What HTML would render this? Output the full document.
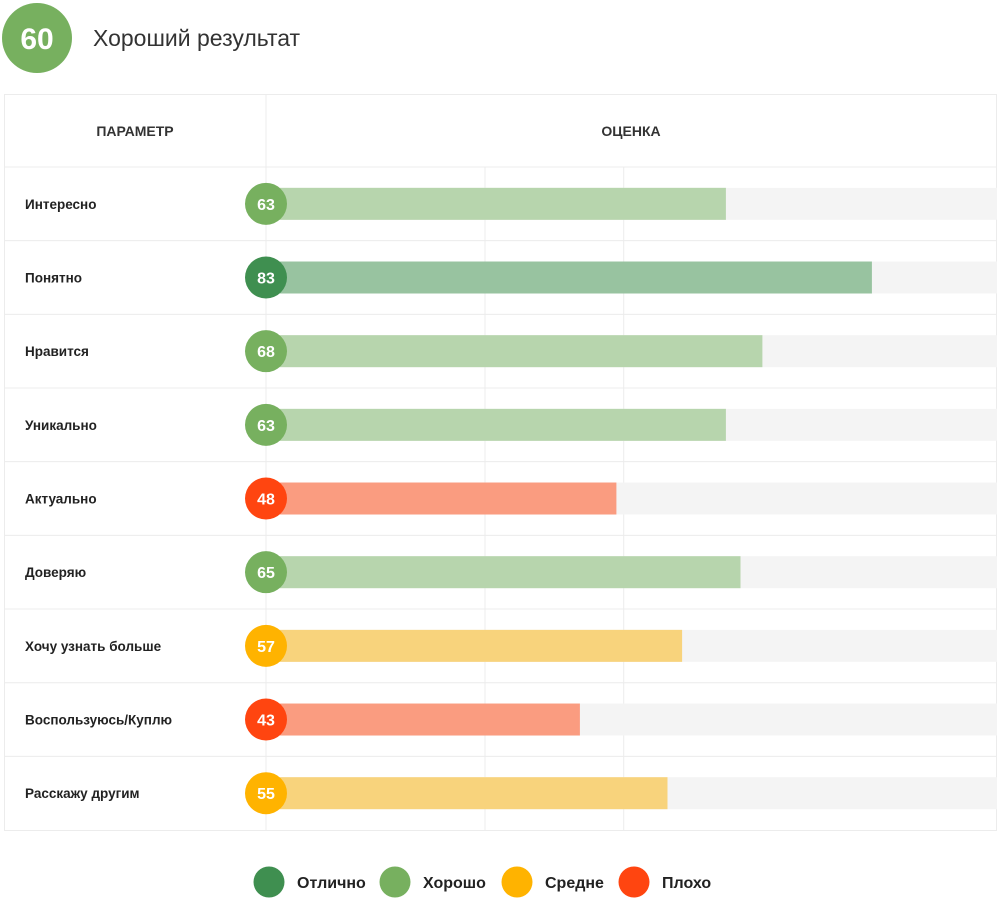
<!DOCTYPE html>
<html><head><meta charset="utf-8"><style>
body{margin:0;background:#fff;width:1000px;height:900px;overflow:hidden}
svg{display:block;font-family:"Liberation Sans","DejaVu Sans",sans-serif}
</style></head><body>
<svg id="c" width="1000" height="900">
<circle cx="37" cy="38" r="35" fill="#77b05f"/>
<text x="37" y="49" text-anchor="middle" font-size="30" font-weight="bold" fill="#fff">60</text>
<text x="93" y="46" font-size="23" fill="#333">Хороший результат</text>
<rect x="4.5" y="94.5" width="992" height="736" fill="#fff" stroke="#ececec"/>
<line x1="266" y1="94" x2="266" y2="830" stroke="#ececec"/>
<line x1="4" y1="167" x2="997" y2="167" stroke="#ececec"/>
<text x="135" y="136" text-anchor="middle" font-size="14" font-weight="bold" fill="#333">ПАРАМЕТР</text>
<text x="631" y="136" text-anchor="middle" font-size="14" font-weight="bold" fill="#333">ОЦЕНКА</text>
<g id="grid"></g><g id="rows"></g><g id="legend"></g>
</svg>
<script>
const categories=["Интересно","Понятно","Нравится","Уникально","Актуально","Доверяю","Хочу узнать больше","Воспользуюсь/Куплю","Расскажу другим"];
const values=[63,83,68,63,48,65,57,43,55];
const levels=["good","excellent","good","good","bad","good","medium","bad","medium"];
const gridValues=[30,49];
const legendLabels=["Отлично","Хорошо","Средне","Плохо"];
const legendLevels=["excellent","good","medium","bad"];
const dot={excellent:"#3f8f50",good:"#77b05f",medium:"#ffb300",bad:"#ff4510"};
const fill={excellent:"#98c3a0",good:"#b7d5ad",medium:"#f8d37c",bad:"#fa9c80"};
const NS="http://www.w3.org/2000/svg";
const x=v=>266+v*7.3;
const rowTop=167,rowH=73.67;
function mk(t,a,p){const e=document.createElementNS(NS,t);for(const k in a)e.setAttribute(k,a[k]);p.appendChild(e);return e;}
const grid=document.getElementById('grid'),rows=document.getElementById('rows'),lg=document.getElementById('legend');
gridValues.forEach(g=>{const l=mk('line',{x1:x(g),x2:x(g),y1:167,y2:830,stroke:'#ececec'},grid);

});
categories.forEach((c,i)=>{
 const y0=rowTop+i*rowH,cy=y0+rowH/2;
 if(i>0){const sep=mk('line',{x1:4,x2:997,y1:y0,y2:y0,stroke:'#ececec'},rows);
 
 }
 const lab=mk('text',{x:25,y:cy+5,'font-size':13.5,'font-weight':'bold',fill:'#222'},rows);lab.textContent=c;
 
 
 const bg=mk('rect',{x:266,y:cy-16,width:731,height:32,fill:'#f4f4f4'},rows);
 
 
 const b=mk('rect',{x:266,y:cy-16,width:x(values[i])-266,height:32,fill:fill[levels[i]]},rows);
 
 
 const d=mk('circle',{cx:266,cy:cy,r:21,fill:dot[levels[i]]},rows);
 
 
 const t=mk('text',{x:266,y:cy+6,'text-anchor':'middle','font-size':16,'font-weight':'bold',fill:'#fff'},rows);t.textContent=values[i];
 
 
});
const lx=[269,395,517,634];
legendLabels.forEach((l,i)=>{
 const c=mk('circle',{cx:lx[i],cy:882,r:15.5,fill:dot[legendLevels[i]]},lg);
 
 
 const t=mk('text',{x:lx[i]+28,y:888,'font-size':16,'font-weight':'bold',fill:'#222'},lg);t.textContent=l;
 
 
});
</script>
</body></html>
